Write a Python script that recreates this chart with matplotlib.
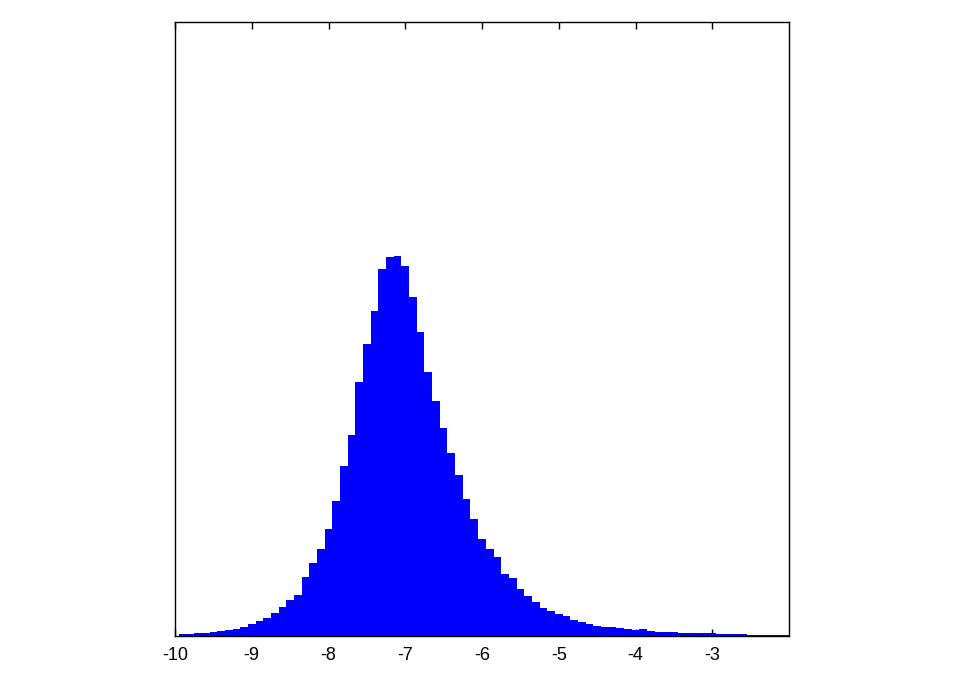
import matplotlib
matplotlib.use("Agg")
import matplotlib.pyplot as plt
import numpy as np

plt.rcParams['font.family'] = ['Liberation Sans', 'DejaVu Sans']
plt.rcParams['axes.unicode_minus'] = False

# Bin centers (width 0.1) and heights
bin_width = 0.1
bin_centers = [round(-9.9 + 0.1 * k, 2) for k in range(80)]
counts = [
    2, 2.5, 3, 3.5, 4, 5, 6, 7.5, 9, 12.5,
    15, 18, 22.7, 29.3, 36.3, 41.5, 59.3, 73.2, 87, 106.7,
    134.8, 170, 200.7, 254.3, 291.7, 324.7, 366.7, 378.7, 379.7, 370.3,
    339.5, 304.2, 264.3, 235, 208, 182.7, 161, 137.2, 116.7, 96.7,
    87.5, 78.7, 62.3, 57.7, 46.7, 40, 34, 28.5, 25, 21.7,
    19.8, 16.3, 13.8, 12.3, 10.3, 8.7, 9.3, 8, 6.7, 6,
    7, 5, 4, 4, 3.7, 3, 3, 2.7, 2.7, 2.7,
    2.3, 1.8, 2, 1.8, 1.5, 1.2, 1.2, 1.1, 1.0, 1.0,
]
xticks = [-10, -9, -8, -7, -6, -5, -4, -3]
xtick_labels = ["-10", "-9", "-8", "-7", "-6", "-5", "-4", "-3"]

fig = plt.figure(figsize=(9.63, 6.74), dpi=100)
ax = fig.add_axes([175 / 963, (674 - 636) / 674, 614 / 963, 614 / 674])

ax.bar(bin_centers, counts, width=bin_width, color='#0000ff', linewidth=0)

ax.set_xlim(-10, -2)
ax.set_ylim(0, 614)
ax.set_xticks(xticks)
ax.set_xticklabels(xtick_labels, fontsize=13)
ax.set_yticks([])
ax.tick_params(axis='x', direction='in', length=5, width=1, top=True, bottom=True, pad=8)
ax.set_axisbelow(True)
for s in ax.spines.values():
    s.set_linewidth(1)
    s.set_color('black')

fig.savefig("out.png", dpi=100)
